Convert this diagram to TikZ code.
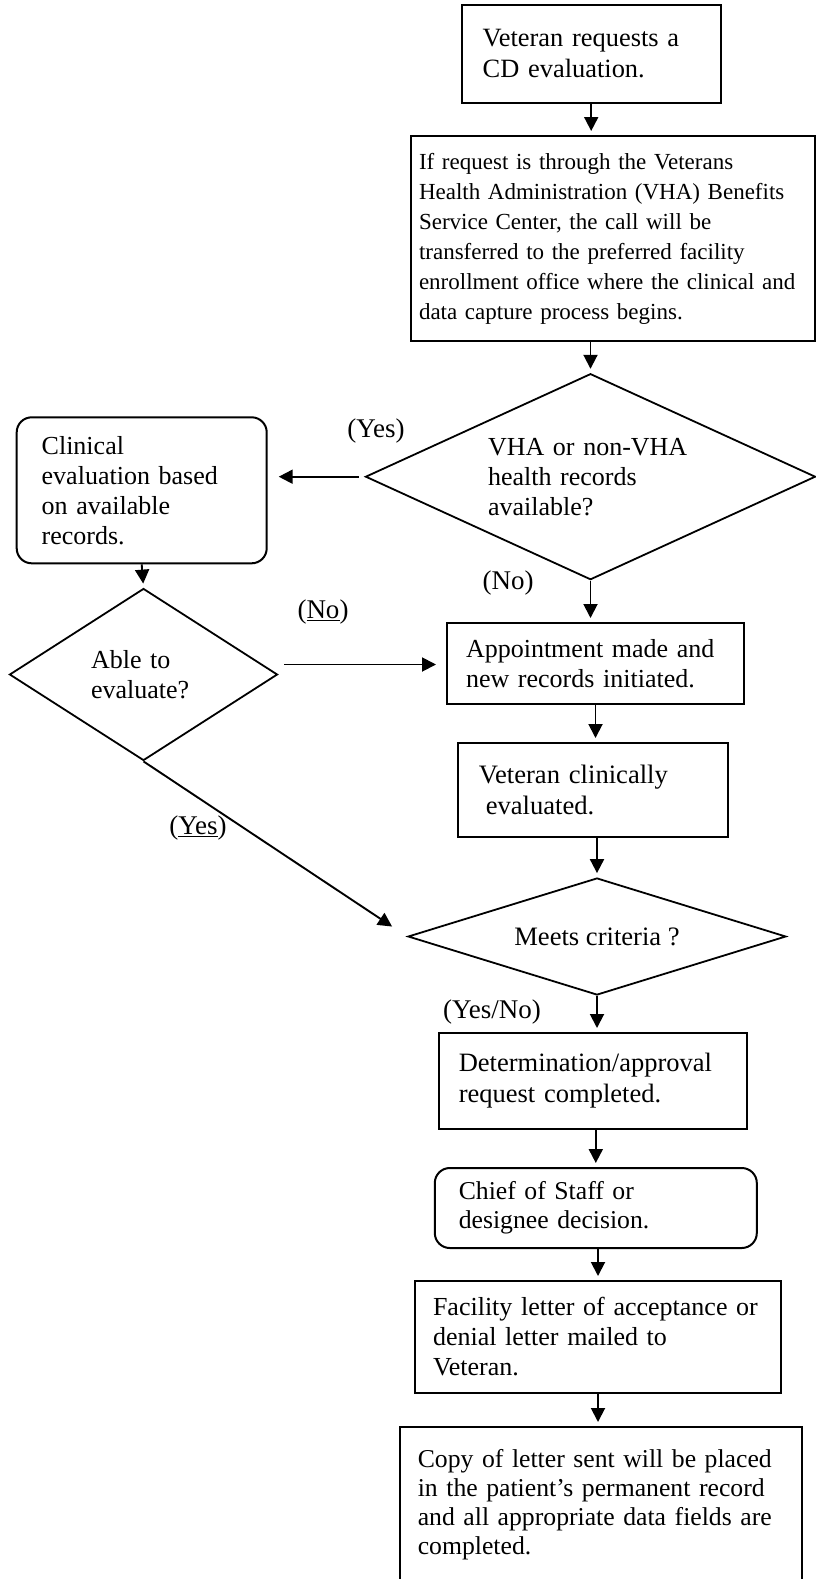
\documentclass[tikz,border=0pt]{standalone}
\usepackage{fontspec}
\setmainfont{Liberation Serif}
\usetikzlibrary{shapes.geometric,arrows.meta}
\begin{document}
\begin{tikzpicture}[x=1pt, y=-1pt, every node/.style={font=\fontsize{26}{30}\selectfont}]
\tikzstyle{box}      = [rectangle, draw=black, line width=2pt, align=left, inner sep=0pt]
\tikzstyle{box_soft} = [box, rounded corners=15pt]
\tikzstyle{decision} = [diamond, draw=black, line width=1.8pt, align=left, inner sep=0pt]
\tikzstyle{tag}      = [inner sep=0pt, font=\fontsize{27}{30}\selectfont]
\tikzstyle{arrow}    = [line width=1.9pt, -{Triangle[length=14pt,width=14pt]}, shorten >=4pt]

\useasboundingbox (0,0) rectangle (816,1579);

\node (req)      [box, minimum width=259pt, minimum height=98pt, text width=217pt, font=\fontsize{26.4}{31}\selectfont] at (591.2,54) {Veteran requests a\\CD evaluation.};
\node (ifreq)    [box, minimum width=404pt, minimum height=205pt, text width=388pt, font=\fontsize{23}{30}\selectfont] at (613,238.5) {If request is through the Veterans\\Health Administration (VHA) Benefits\\Service Center, the call will be\\transferred to the preferred facility\\enrollment office where the clinical and\\data capture process begins.};
\node (vha)      [decision, aspect=2.18, minimum width=450pt, minimum height=206pt, text width=205pt] at (590.5,476.7) {VHA or non-VHA\\health records\\available?};
\node (clinical) [box_soft, minimum width=250pt, minimum height=146pt, text width=200pt] at (141.7,490.3) {Clinical\\evaluation based\\on available\\records.};
\node (able)     [decision, aspect=1.56, minimum width=268pt, minimum height=172pt, text width=105pt] at (143.5,674.5) {Able to\\evaluate?};
\node (appt)     [box, minimum width=297pt, minimum height=81pt, text width=259pt] at (595.5,663.5) {Appointment made and\\new records initiated.};
\node (vetclin)  [box, minimum width=270pt, minimum height=94pt, text width=228pt, font=\fontsize{26.6}{31}\selectfont] at (592.8,790) {Veteran clinically\\\hspace*{7pt}evaluated.};
\node (meets)    [decision, aspect=3.23, minimum width=378pt, minimum height=117pt, font=\fontsize{26.6}{30}\selectfont] at (597,936.5) {Meets criteria ?};
\node (det)      [box, minimum width=308pt, minimum height=96pt, text width=268pt, font=\fontsize{26.5}{31}\selectfont] at (592.8,1081) {Determination/approval\\request completed.};
\node (chief)    [box_soft, minimum width=322pt, minimum height=80pt, text width=274pt, font=\fontsize{25.7}{29}\selectfont] at (595.8,1208) {Chief of Staff or\\designee decision.};
\node (letter)   [box, minimum width=366pt, minimum height=112pt, text width=330pt] at (598,1337) {Facility letter of acceptance or\\denial letter mailed to\\Veteran.};
\node (copy)     [box, minimum width=402pt, minimum height=155pt, text width=366pt, font=\fontsize{25.7}{29}\selectfont] at (600.8,1504.5) {Copy of letter sent will be placed\\in the patient’s permanent record\\and all appropriate data fields are\\completed.};

% branch labels
\node (yes_vha)  [tag] at (376,431)  {(Yes)};
\node (no_vha)   [tag] at (508,583)  {(No)};
\node (no_able)  [tag] at (323,612)  {(\underline{No})};
\node (yes_able) [tag] at (198,828)  {(\underline{Yes})};
\node (yn_meets) [tag] at (492,1012) {(Yes/No)};

\draw [arrow] (req.south) -- (req.south |- ifreq.north);
\draw [arrow] (vha.north |- ifreq.south) -- (vha.north);
\draw [arrow, shorten <=6pt, shorten >=11pt] (vha.west) -- (vha.west -| clinical.east);
\draw [arrow] (clinical.south) -- (able.north);
\draw [arrow] (vha.south) -- (vha.south |- appt.north);
\draw [arrow, shorten <=6pt, shorten >=10pt] ([yshift=10pt]able.east) -- ([yshift=10pt]able.east -| appt.west);
\draw [arrow] (appt.south) -- (appt.south |- vetclin.north);
\draw [arrow] (vetclin.south -| meets.north) -- (meets.north);
\draw [arrow, shorten >=18pt] (able.south) -- (meets.west);
\draw [arrow] (meets.south) -- (meets.south |- det.north);
\draw [arrow] (det.south -| chief.north) -- (chief.north);
\draw [arrow] (chief.south -| letter.north) -- (letter.north);
\draw [arrow] (letter.south) -- (letter.south |- copy.north);
\end{tikzpicture}
\end{document}
